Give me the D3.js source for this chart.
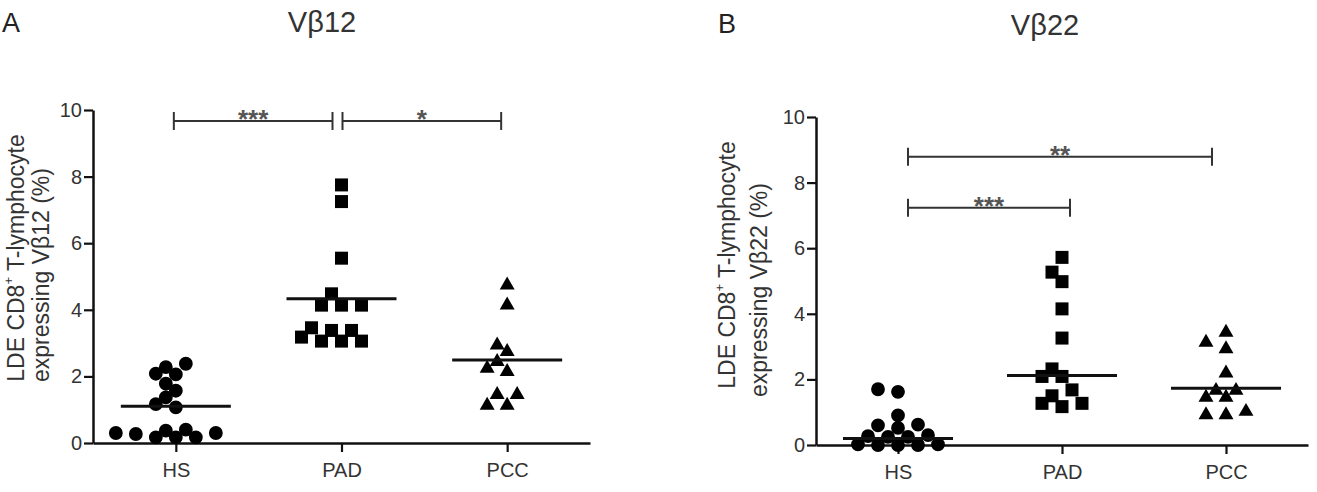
<!DOCTYPE html>
<html><head><meta charset="utf-8">
<script src="https://cdn.jsdelivr.net/npm/d3@7"></script>
<style>
body{margin:0;background:#fff}
svg{display:block;font-family:"Liberation Sans",Arial,Helvetica,sans-serif}
</style>
</head><body><svg id="c" width="1317" height="492"></svg>
<script>
// ---------------- data ----------------
const categories = ["HS", "PAD", "PCC"];
const yTicks = [0, 2, 4, 6, 8, 10];

// Panel A – Vβ12
const vb12HS  = [2.38, 2.28, 2.08, 2.06, 1.78, 1.57, 1.37, 1.17, 1.07, 0.40, 0.37, 0.30, 0.30, 0.27, 0.17, 0.17, 0.17];
const vb12PAD = [7.75, 7.25, 5.55, 4.48, 4.14, 4.14, 4.14, 3.46, 3.38, 3.38, 3.18, 3.06, 3.06, 3.06];
const vb12PCC = [4.74, 4.14, 2.94, 2.74, 2.44, 2.24, 2.14, 1.45, 1.45, 1.13, 1.13];
const vb12Center = [1.10, 4.33, 2.49];
const vb12Sig = [
  {from: "HS", to: "PAD", y: 9.67, label: "***"},
  {from: "PAD", to: "PCC", y: 9.67, label: "*"}
];

// Panel B – Vβ22
const vb22HS  = [1.70, 1.62, 0.90, 0.62, 0.60, 0.52, 0.30, 0.27, 0.25, 0.25, 0.02, 0.02, 0.00, 0.00, 0.00];
const vb22PAD = [5.72, 5.27, 4.98, 4.15, 3.26, 2.32, 2.09, 2.09, 1.68, 1.50, 1.27, 1.27, 1.17];
const vb22PCC = [3.43, 3.13, 2.93, 2.19, 1.66, 1.66, 1.45, 1.45, 1.02, 0.92, 0.92];
const vb22Center = [0.20, 2.12, 1.73];
const vb22Sig = [
  {from: "HS", to: "PCC", y: 8.79, label: "**"},
  {from: "HS", to: "PAD", y: 7.23, label: "***"}
];

// ---------------- layout ----------------
const svg = d3.select("#c");
const symbols = [d3.symbolCircle, d3.symbolSquare, d3.symbolTriangle];
const symSizes = [150, 169, 97];

function swarm(vals, cx, y, step, minD) {
  const pts = vals.map(v => ({v, py: y(v)})).sort((a, b) => a.v - b.v);
  const placed = [];
  for (const p of pts) {
    for (let k = 0; k < 60; k++) {
      const off = k === 0 ? 0 : (k % 2 ? -Math.ceil(k / 2) : Math.ceil(k / 2)) * step;
      const px = cx + off;
      if (placed.every(q => Math.hypot(q.px - px, q.py - p.py) >= minD)) {
        p.px = px; placed.push(p); break;
      }
    }
  }
  return placed;
}

function panel(cfg) {
  const g = svg.append("g");
  const x = d3.scalePoint().domain(categories).range([cfg.x0, cfg.x1]).padding(0.5);
  const y = d3.scaleLinear().domain([0, 10]).range([cfg.yBot, cfg.yTop]);

  // axes
  const ya = g.append("g").attr("transform", `translate(${cfg.x0},0)`)
    .call(d3.axisLeft(y).tickValues(yTicks).tickSize(9).tickSizeOuter(0).tickPadding(2));
  const xa = g.append("g").attr("transform", `translate(0,${cfg.yBot})`)
    .call(d3.axisBottom(x).tickSize(9).tickSizeOuter(0).tickPadding(11));
  [ya, xa].forEach(a => {
    a.select(".domain").attr("stroke", "#111").attr("stroke-width", 2.5);
    a.selectAll(".tick line").attr("stroke", "#111").attr("stroke-width", 2.2);
    a.selectAll(".tick text").attr("fill", "#333").style("font-size", "20px")
      .style("font-family", '"Liberation Sans",Arial,sans-serif');
  });

  // points
  cfg.series.forEach((vals, i) => {
    const cx = x(categories[i]);
    const pts = swarm(vals, cx, y, 10, 12);
    g.append("g").selectAll("path").data(pts).join("path")
      .attr("d", d3.symbol().type(symbols[i]).size(symSizes[i]))
      .attr("transform", d => `translate(${d.px},${d.py})`)
      .attr("fill", "#000");
    // centre line
    g.append("line")
      .attr("x1", cx - 55).attr("x2", cx + 55)
      .attr("y1", y(cfg.center[i])).attr("y2", y(cfg.center[i]))
      .attr("stroke", "#111").attr("stroke-width", 3);
  });

  // significance brackets
  cfg.sig.forEach((s, j) => {
    const xa1 = x(s.from) + cfg.sigOff[j][0], xa2 = x(s.to) + cfg.sigOff[j][1];
    const yy = y(s.y);
    const bg = g.append("g").attr("stroke", "#333").attr("stroke-width", 2);
    bg.append("line").attr("x1", xa1).attr("x2", xa2).attr("y1", yy).attr("y2", yy);
    bg.append("line").attr("x1", xa1).attr("x2", xa1).attr("y1", yy - 9).attr("y2", yy + 9);
    bg.append("line").attr("x1", xa2).attr("x2", xa2).attr("y1", yy - 9).attr("y2", yy + 9);
    g.append("text").attr("x", (xa1 + xa2) / 2).attr("y", yy + 7)
      .attr("text-anchor", "middle").attr("fill", "#555")
      .style("font-size", "26px").style("font-weight", "bold").text(s.label);
  });

  // y-axis title (two lines)
  const t1 = g.append("text")
    .attr("transform", `translate(${cfg.title1[0]},${cfg.title1[1]}) rotate(-90)`)
    .attr("text-anchor", "middle").attr("dominant-baseline", "central")
    .attr("fill", "#333").style("font-size", "23px");
  t1.append("tspan").text("LDE CD8");
  t1.append("tspan").text("+").style("font-size", "13px").attr("dy", "-8");
  t1.append("tspan").text(" T-lymphocyte").attr("dy", "8");
  g.append("text")
    .attr("transform", `translate(${cfg.title2[0]},${cfg.title2[1]}) rotate(-90)`)
    .attr("text-anchor", "middle").attr("dominant-baseline", "central")
    .attr("fill", "#333").style("font-size", "23px").text(cfg.title2Text);

  // chart title & panel letter
  g.append("text").attr("x", cfg.titleX).attr("y", cfg.titleY).attr("text-anchor", "middle")
    .attr("fill", "#333").style("font-size", "29px").text(cfg.title);
  g.append("text").attr("x", cfg.letterX).attr("y", cfg.letterY).attr("text-anchor", "start")
    .attr("fill", "#222").style("font-size", "27px").text(cfg.letter);
}

panel({
  x0: 93, x1: 590, yTop: 110, yBot: 443,
  series: [vb12HS, vb12PAD, vb12PCC], center: vb12Center, sig: vb12Sig,
  sigOff: [[-2, -9], [1, -6]],
  title1: [16, 258], title2: [41, 275], title2Text: "expressing Vβ12 (%)",
  title: "Vβ12", titleX: 322, titleY: 32,
  letter: "A", letterX: 2, letterY: 32
});

panel({
  x0: 816, x1: 1308, yTop: 117, yBot: 445,
  series: [vb22HS, vb22PAD, vb22PCC], center: vb22Center, sig: vb22Sig,
  sigOff: [[10, -14], [10, 8]],
  title1: [727, 265], title2: [759, 290], title2Text: "expressing Vβ22 (%)",
  title: "Vβ22", titleX: 1045, titleY: 35,
  letter: "B", letterX: 718, letterY: 33
});
</script>
</body></html>
